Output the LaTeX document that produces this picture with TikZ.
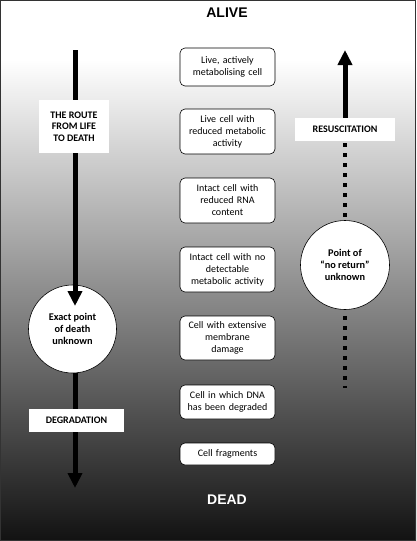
\documentclass[tikz,border=0pt]{standalone}
\usepackage{fontspec}
\setmainfont{Carlito}
\newfontfamily\headfont{Liberation Sans}
\usetikzlibrary{arrows.meta,shapes.geometric}
\definecolor{bgbot}{gray}{0.07}
\pgfdeclareverticalshading{bgshade}{100bp}{color(0bp)=(bgbot); color(25bp)=(bgbot); color(69.5bp)=(white); color(100bp)=(white)}
\begin{document}
\begin{tikzpicture}[x=1pt,y=-1pt,
  stage/.style={draw=black,line width=0.6pt,fill=white,rounded corners=5pt,
    minimum width=95pt,text width=90pt,align=center,inner sep=0pt,
    font=\fontsize{10}{12}\selectfont},
  label/.style={fill=white,inner sep=0pt,align=center,
    font=\bfseries\fontsize{10}{11.5}\selectfont},
  unknown/.style={circle,draw=black,line width=0.6pt,fill=white,inner sep=0pt,
    align=center,font=\bfseries\fontsize{10.3}{11.7}\selectfont},
  title/.style={font=\headfont\bfseries\fontsize{14}{16}\selectfont},
  thick line/.style={line width=5pt},
  dotline/.style={line width=4pt,dash pattern=on 4pt off 6pt},
  head/.style={-{Triangle[width=14pt,length=15pt]}}
]
\useasboundingbox (0,0) rectangle (416,541);
\shade[shading=bgshade] (0,0) rectangle (416,541);
\draw[gray!40!black,line width=1pt] (0.5,0.5) rectangle (415.5,540.5);

\node[title] (alive) at (227,13) {ALIVE};
\node[title,text=white] (dead) at (227,500) {DEAD};

% stages
\node[stage,minimum height=38pt] (s1) at (227.5,67) {Live, actively\\metabolising cell};
\node[stage,minimum height=45pt] (s2) at (227.5,131.5) {Live cell with\\reduced metabolic\\activity};
\node[stage,minimum height=45pt] (s3) at (227.5,200.5) {Intact cell with\\reduced RNA\\content};
\node[stage,minimum height=45pt] (s4) at (227.5,269.5) {Intact cell with no\\detectable\\metabolic activity};
\node[stage,minimum height=44pt] (s5) at (227.5,338) {Cell with extensive\\membrane\\damage};
\node[stage,minimum height=34pt] (s6) at (227.5,402) {Cell in which DNA\\has been degraded};
\node[stage,minimum height=22pt] (s7) at (227.5,454) {Cell fragments};

% left side
\coordinate (ltop) at (75,50);
\coordinate (ltip) at (75,306);
\coordinate (lmid) at (75,360);
\coordinate (lbot) at (75,488);
\draw[thick line,head] (lmid) -- (lbot);
\node[unknown,minimum size=88pt] (death) at (72.5,329) {Exact point\\of death\\unknown};
\draw[thick line,head] (ltop) -- (ltip);
\node[label,minimum width=70pt,minimum height=53pt] (route) at (74,126.5) {THE ROUTE\\FROM LIFE\\TO DEATH};
\node[label,minimum width=95pt,minimum height=23pt] (degr) at (76.5,420.5) {DEGRADATION};

% right side
\coordinate (rtop) at (345,50);
\coordinate (rbot) at (345,388);
\node[label,minimum width=100pt,minimum height=23pt] (resus) at (345,129.5) {RESUSCITATION};
\node[unknown,minimum size=89pt] (noret) at (345,265) {Point of\\``no return''\\unknown};
\draw[thick line,head] (resus.north) -- (rtop);
\draw[dotline] ([yshift=-2pt]resus.south) -- (noret.north);
\draw[dotline] ([yshift=-6pt]noret.south) -- (rbot);
\end{tikzpicture}
\end{document}
